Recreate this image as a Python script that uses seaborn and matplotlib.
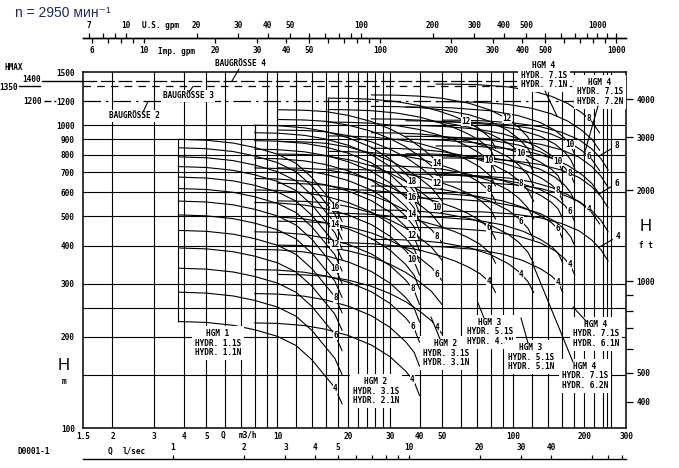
import numpy as np
import pandas as pd
import matplotlib
matplotlib.use("Agg")
import matplotlib.pyplot as plt
import seaborn as sns
from matplotlib.lines import Line2D
from matplotlib.ticker import NullFormatter, NullLocator

sns.set_style("white")
plt.rcParams.update({
    "font.family": ["DejaVu Sans Mono", "DejaVu Sans"],
    "font.weight": "bold",
    "text.color": "black", "xtick.color": "black", "ytick.color": "black",
    "axes.edgecolor": "black",
})

# ---------------- data ----------------
flow_ticks = [1.5, 2, 3, 4, 5, 10, 20, 30, 40, 50, 100, 200, 300]
flow_tick_labels = ["1.5", "2", "3", "4", "5", "10", "20", "30", "40", "50", "100", "200", "300"]
head_ticks = [100, 200, 300, 400, 500, 600, 700, 800, 900, 1000, 1200, 1500]
head_tick_labels = ["100", "200", "300", "400", "500", "600", "700", "800", "900", "1000", "1200", "1500"]
grid_flows = [2, 3, 4, 5, 6, 9, 10, 12, 14, 16, 18, 20, 22, 24, 26, 28, 30, 40, 50, 60, 70,
              80, 90, 100, 120, 140, 160, 180, 200, 220, 240, 250, 260]
grid_flows_low = [7, 8]            # these stop at 1000 m
grid_heads = [150, 200, 250, 300, 400, 500, 600, 700, 800, 900, 1000]

us_gpm_major = [7, 10, 20, 30, 40, 50, 100, 200, 300, 400, 500, 1000]
us_gpm_minor = [8, 9, 60, 70, 80, 90, 600, 700, 800, 900, 1100, 1200]
imp_gpm_major = [6, 10, 20, 30, 40, 50, 100, 200, 300, 400, 500, 1000]
imp_gpm_minor = [7, 8, 9, 60, 70, 80, 90, 600, 700, 800, 900]
lsec_major = [1, 2, 3, 4, 5, 10, 20, 30, 40]
lsec_minor = [6, 7, 8, 9, 60, 70, 80]
ft_major = [400, 500, 1000, 2000, 3000, 4000]
ft_minor = [600, 700, 800, 900]

# pump families: flow (m3/h) and head per stage (m); stage counts
hgm1_11n_q = [3.8, 5, 6.5, 8, 10, 12, 14, 16, 17.5, 18.8]
hgm1_11n_h = [56.2, 55.8, 54.6, 52.8, 50.2, 46.8, 42.0, 37.0, 34.0, 30.0]
hgm1_11n_n = list(range(4, 17))

hgm2_21n_q = [8, 10, 13, 16, 20, 25, 30, 35, 38, 40]
hgm2_21n_h = [55.6, 55.4, 54.5, 53.0, 50.5, 47.0, 43.0, 38.5, 35.5, 32.0]
hgm2_21n_n = list(range(4, 19))

hgm2_31n_q = [10, 13, 16, 20, 25, 30, 35, 40, 45, 50]
hgm2_31n_h = [80.4, 80.1, 79.3, 77.0, 73.5, 69.5, 65.3, 60.8, 56.5, 51.0]
hgm2_31n_n = list(range(4, 15))

hgm3_41n_q = [16.4, 20, 25, 32, 40, 48, 56, 64, 72, 80, 84]
hgm3_41n_h = [102.5, 102.3, 101.6, 99.8, 96.8, 93.0, 89.3, 85.3, 81.0, 75.5, 70.0]
hgm3_41n_n = list(range(4, 13))

hgm3_51n_q = [25, 32, 40, 50, 65, 80, 95, 105, 115, 122]
hgm3_51n_h = [105.0, 104.8, 104.0, 102.3, 98.5, 93.5, 87.3, 82.3, 76.3, 70.0]
hgm3_51n_n = list(range(4, 13))

hgm4_61n_q = [32, 40, 50, 70, 90, 110, 130, 145, 155, 162]
hgm4_61n_h = [100.0, 99.8, 99.2, 97.2, 93.8, 89.3, 84.0, 79.5, 75.5, 70.0]
hgm4_61n_n = list(range(4, 11))

hgm4_62n_q = [35, 45, 55, 80, 105, 130, 150, 165, 175, 182]
hgm4_62n_h = [115.0, 114.8, 114.2, 111.7, 107.6, 102.2, 96.3, 90.6, 85.5, 80.0]
hgm4_62n_n = list(range(4, 11))

hgm4_71n_q = [47, 55, 70, 95, 120, 145, 170, 195, 215, 232]
hgm4_71n_h = [171.0, 170.9, 170.3, 167.4, 162.5, 155.8, 147.5, 137.5, 128.5, 118.0]
hgm4_71n_n = list(range(4, 9))

hgm4_72n_q = [50, 60, 75, 100, 130, 160, 190, 215, 235, 252]
hgm4_72n_h = [130.0, 129.9, 129.3, 127.3, 123.7, 118.5, 112.0, 104.4, 97.0, 89.0]
hgm4_72n_n = list(range(4, 9))

families = {
    "1.1N": (hgm1_11n_q, hgm1_11n_h, hgm1_11n_n),
    "2.1N": (hgm2_21n_q, hgm2_21n_h, hgm2_21n_n),
    "3.1N": (hgm2_31n_q, hgm2_31n_h, hgm2_31n_n),
    "4.1N": (hgm3_41n_q, hgm3_41n_h, hgm3_41n_n),
    "5.1N": (hgm3_51n_q, hgm3_51n_h, hgm3_51n_n),
    "6.1N": (hgm4_61n_q, hgm4_61n_h, hgm4_61n_n),
    "6.2N": (hgm4_62n_q, hgm4_62n_h, hgm4_62n_n),
    "7.1N": (hgm4_71n_q, hgm4_71n_h, hgm4_71n_n),
    "7.2N": (hgm4_72n_q, hgm4_72n_h, hgm4_72n_n),
}
# where the stage numbers sit (flow) and which stages are labelled
stage_labels = {
    "1.1N": (17.6, [4, 6, 8, 10, 12, 14, 16], {}),
    "2.1N": (37.3, [4, 6, 8, 10, 12, 14, 16, 18], {}),
    "3.1N": (47.5, [4, 6, 8, 10, 12, 14], {}),
    "4.1N": (78.5, [4, 6, 8, 10, 12], {12: 63}),
    "5.1N": (108, [4, 6, 8, 10, 12], {12: 94}),
    "6.1N": (154, [4, 6, 8, 10], {}),
    "6.2N": (173, [4, 6, 8, 10], {}),
    "7.1N": (208, [4, 6, 8], {}),
}
connector_families = ["1.1N", "2.1N", "3.1N", "4.1N"]

rows = []
for fam, (qs, hs, ns) in families.items():
    for n in ns:
        for q, h in zip(qs, hs):
            rows.append({"family": fam, "curve": f"{fam}-{n}", "Q": q, "H": n * h})
df = pd.DataFrame(rows)

# ---------------- figure ----------------
W, H = 679, 468
fig = plt.figure(figsize=(W / 100, H / 100), dpi=100)
ax = fig.add_axes([83 / W, 1 - 428 / H, (626 - 83) / W, (428 - 72) / H])
FS = 5.6
LW = 0.8
PX = 0.72  # points per pixel at 100 dpi


def ftext(x, y, s, **kw):
    kw.setdefault("fontsize", FS)
    kw.setdefault("ha", "center")
    kw.setdefault("va", "center")
    return fig.text(x / W, 1 - y / H, s, **kw)


def fline(xs, ys, **kw):
    kw.setdefault("lw", LW)
    kw.setdefault("color", "black")
    ln = Line2D([x / W for x in xs], [1 - y / H for y in ys], transform=fig.transFigure, **kw)
    ln.set_zorder(kw.get("zorder", 6))
    fig.add_artist(ln)


ax.set_xscale("log")
ax.set_yscale("log")

for q in grid_flows:
    ax.axvline(q, color="black", lw=LW, zorder=1)
for q in grid_flows_low:
    ax.vlines(q, 100, 1000, color="black", lw=LW, zorder=1)
for h in grid_heads:
    ax.axhline(h, color="black", lw=LW, zorder=1)

ax.axhline(1400, color="black", lw=0.9, ls=(0, (11, 3)), zorder=1)
ax.axhline(1350, color="black", lw=0.9, ls=(0, (6, 5)), zorder=1)
ax.axhline(1200, color="black", lw=0.9, ls=(0, (14, 4, 2, 4)), zorder=1)

sns.lineplot(data=df, x="Q", y="H", units="curve", estimator=None, sort=False,
             color="black", lw=LW, ax=ax, legend=False, zorder=2)

for fam in connector_families:
    qs, hs, ns = families[fam]
    ax.vlines(qs[0], min(ns) * hs[0], max(ns) * hs[0], color="black", lw=LW, zorder=2)

ax.set_xlim(1.5, 300)
ax.set_ylim(100, 1500)
ax.set_xlabel("")
ax.set_ylabel("")
ax.grid(False)
for s in ax.spines.values():
    s.set_linewidth(1.1)
    s.set_color("black")

ax.set_xticks(flow_ticks, labels=flow_tick_labels)
ax.xaxis.set_minor_locator(NullLocator())
ax.set_yticks(head_ticks, labels=head_tick_labels)
ax.yaxis.set_minor_locator(NullLocator())
ax.tick_params(axis="x", length=0, pad=3, labelsize=FS)
ax.tick_params(axis="y", length=0, pad=6, labelsize=FS)

# stage numbers
for fam, (ql, stages, special) in stage_labels.items():
    qs, hs, ns = families[fam]
    for n in stages:
        q = special.get(n, ql)
        h = n * np.exp(np.interp(np.log(q), np.log(qs), np.log(hs)))
        ax.text(q, h, str(n), fontsize=FS, ha="center", va="center", zorder=4,
                bbox=dict(fc="white", ec="none", pad=0.2))

# 7.2N labels with leaders
q72 = 230
for n, (dx, dy) in zip([8, 6, 4], [(16, 11), (16, 11), (17, 11)]):
    qs, hs, ns = families["7.2N"]
    h = n * np.exp(np.interp(np.log(q72), np.log(qs), np.log(hs)))
    ax.annotate(str(n), xy=(q72, h), xytext=(dx, dy), textcoords="offset pixels",
                fontsize=FS, ha="left", va="center", zorder=4,
                arrowprops=dict(arrowstyle="-", lw=LW, color="black", shrinkA=0, shrinkB=0),
                annotation_clip=False)

# secondary scales
loc_top = (428 - 38) / 356
us = ax.secondary_xaxis(loc_top, functions=(lambda q: q * 4.40287, lambda g: g / 4.40287))
us.set_xticks(us_gpm_major, labels=[str(v) for v in us_gpm_major])
us.set_xticks(us_gpm_minor, minor=True)
us.xaxis.set_minor_formatter(NullFormatter())
us.tick_params(which="both", direction="out", length=5 * PX, width=0.9, pad=2, labelsize=FS)
for s in us.spines.values():
    s.set_linewidth(1.0)

imp = ax.secondary_xaxis(loc_top, functions=(lambda q: q * 3.66615, lambda g: g / 3.66615))
imp.set_alignment("bottom")
imp.set_xticks(imp_gpm_major, labels=[str(v) for v in imp_gpm_major])
imp.set_xticks(imp_gpm_minor, minor=True)
imp.xaxis.set_minor_formatter(NullFormatter())
imp.tick_params(which="both", direction="out", length=5 * PX, width=0.9, pad=2.5, labelsize=FS)
for s in imp.spines.values():
    s.set_linewidth(1.0)

loc_bot = (428 - 459) / 356
ls = ax.secondary_xaxis(loc_bot, functions=(lambda q: q / 3.6, lambda l: l * 3.6))
ls.set_alignment("top")
ls.set_xticks(lsec_major, labels=[str(v) for v in lsec_major])
ls.set_xticks(lsec_minor, minor=True)
ls.xaxis.set_minor_formatter(NullFormatter())
ls.tick_params(which="both", direction="out", length=4 * PX, width=0.9, pad=2, labelsize=FS)
for s in ls.spines.values():
    s.set_linewidth(1.0)

ft = ax.secondary_yaxis("right", functions=(lambda m: m * 3.28084, lambda f: f / 3.28084))
ft.set_yticks(ft_major, labels=[str(v) for v in ft_major])
ft.set_yticks(ft_minor, minor=True)
ft.yaxis.set_minor_formatter(NullFormatter())
ft.tick_params(which="both", direction="out", length=7 * PX, width=0.9, pad=2.5, labelsize=FS)
ft.spines["right"].set_visible(False)

# texts
ftext(15, 13, "n = 2950 мин⁻¹", fontsize=10, ha="left", color="#1c2b5c",
      family=["Liberation Sans", "DejaVu Sans"], weight="normal")
ftext(160, 26, "U.S. gpm")
ftext(177, 52, "Imp. gpm")
ftext(223, 435, "Q")
ftext(248, 435, "m3/h")
ftext(34, 452, "D0001-1")
ftext(110, 451, "Q")
ftext(134, 451, "l/sec")
ftext(14, 68, "HMAX")
ftext(41, 79, "1400", ha="right")
fline([42, 83], [81, 81], lw=1.0)
ftext(18, 88, "1350", ha="right")
fline([19, 40], [85.5, 85.5], lw=1.0)
ftext(42, 101, "1200", ha="right")
fline([44, 58], [101.4, 101.4], lw=1.0, ls=(0, (5, 2, 1.5, 2)))

bb = dict(fc="white", ec="none", pad=1.2)
ftext(240, 64, "BAUGRÖSSE 4", bbox=bb)
fline([239, 232], [69, 81])
ftext(188, 96, "BAUGRÖSSE 3", bbox=bb)
fline([189, 193], [92, 86.5])
ftext(134, 116, "BAUGRÖSSE 2", bbox=bb)
fline([143, 148], [112, 101.5])

boxes = [
    (218, 343, "HGM 1\nHYDR. 1.1S\nHYDR. 1.1N"),
    (376, 391, "HGM 2\nHYDR. 3.1S\nHYDR. 2.1N"),
    (446, 353, "HGM 2\nHYDR. 3.1S\nHYDR. 3.1N"),
    (490, 332, "HGM 3\nHYDR. 5.1S\nHYDR. 4.1N"),
    (531, 357, "HGM 3\nHYDR. 5.1S\nHYDR. 5.1N"),
    (585, 376, "HGM 4\nHYDR. 7.1S\nHYDR. 6.2N"),
    (596, 334, "HGM 4\nHYDR. 7.1S\nHYDR. 6.1N"),
    (544, 75, "HGM 4\nHYDR. 7.1S\nHYDR. 7.1N"),
    (600, 92, "HGM 4\nHYDR. 7.1S\nHYDR. 7.2N"),
]
for x, y, s in boxes:
    ftext(x, y, s, multialignment="center", linespacing=1.05,
          bbox=dict(fc="white", ec="none", pad=2.0), zorder=5)

leaders = [
    ([440, 431], [339, 317]),
    ([484, 478], [318, 303]),
    ([528, 521], [343, 318]),
    ([573, 532], [362, 262]),
    ([587, 573], [322, 307]),
    ([545, 557], [91, 116]),
    ([598, 584], [106, 155]),
]
for xs, ys in leaders:
    fline(xs, ys)

ftext(64, 365, "H", fontsize=12, family=["Liberation Sans", "DejaVu Sans"], weight="normal")
ftext(64, 381, "m")
ftext(646, 226, "H", fontsize=12, family=["Liberation Sans", "DejaVu Sans"], weight="normal")
ftext(646, 245, "f t")

fig.savefig("out.png", dpi=100)
